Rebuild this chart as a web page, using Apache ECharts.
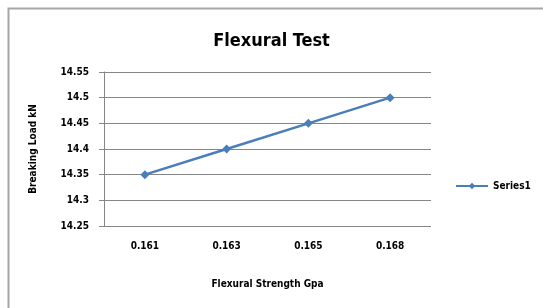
<!DOCTYPE html>
<html>
<head>
<meta charset="utf-8">
<script src="https://cdn.jsdelivr.net/npm/echarts@6/dist/echarts.min.js"></script>
<style>
    html, body { margin: 0; padding: 0; background: #fff; }
    #main { width: 543px; height: 308px; }
</style>
</head>
<body>
<div id="main"></div>
<script>
    // 数据
    var categories = ['0.161', '0.163', '0.165', '0.168'];
    var series1 = [14.35, 14.4, 14.45, 14.5];
    var yMin = 14.25, yMax = 14.55, yStep = 0.05;

    var labelFont = 'DejaVu Sans Condensed';

    var myChart = echarts.init(document.getElementById('main'));

    var option = {
        backgroundColor: '#fff',
        animation: false,
        graphic: [{
            type: 'rect',
            shape: { x: 8.5, y: 8.5, width: 560, height: 320 },
            style: { fill: 'none', stroke: '#a6a6a6', lineWidth: 2 },
            silent: true
        }],
        title: {
            text: 'Flexural Test',
            left: 'center',
            top: 27,
            textStyle: { fontFamily: labelFont, fontWeight: 'bold', fontSize: 18, color: '#000' }
        },
        legend: {
            data: ['Series1'],
            orient: 'vertical',
            left: 450,
            top: 176,
            itemWidth: 32,
            itemHeight: 8,
            itemGap: 4,
            textStyle: { fontFamily: labelFont, fontWeight: 'bold', fontSize: 10, color: '#000' }
        },
        grid: {
            left: 104,
            right: 112,
            top: 72,
            bottom: 82
        },
        xAxis: {
            type: 'category',
            data: categories,
            name: 'Flexural Strength Gpa',
            nameLocation: 'middle',
            nameGap: 53,
            nameTextStyle: { fontFamily: labelFont, fontWeight: 'bold', fontSize: 10, color: '#000' },
            axisLine: { show: false },
            axisTick: { show: false },
            axisLabel: { margin: 15, fontFamily: labelFont, fontWeight: 'bold', fontSize: 10, color: '#000' }
        },
        yAxis: {
            type: 'value',
            min: yMin,
            max: yMax,
            interval: yStep,
            name: 'Breaking Load kN',
            nameLocation: 'middle',
            nameGap: 66,
            nameTextStyle: { fontFamily: labelFont, fontWeight: 'bold', fontSize: 10, color: '#000' },
            axisLine: { show: true, lineStyle: { color: '#868686', width: 1 } },
            axisTick: { show: true, length: 5, lineStyle: { color: '#868686' } },
            axisLabel: {
                margin: 15,
                fontFamily: labelFont, fontWeight: 'bold', fontSize: 10, color: '#000',
                formatter: function (v) { return String(parseFloat(v.toFixed(2))); }
            },
            splitLine: { show: true, lineStyle: { color: '#868686', width: 1 } }
        },
        series: [{
            name: 'Series1',
            type: 'line',
            data: series1,
            symbol: 'diamond',
            symbolSize: 9,
            lineStyle: { color: '#4a7ebb', width: 2.5 },
            itemStyle: { color: '#4a7ebb' }
        }]
    };

    myChart.setOption(option);
</script>
</body>
</html>
